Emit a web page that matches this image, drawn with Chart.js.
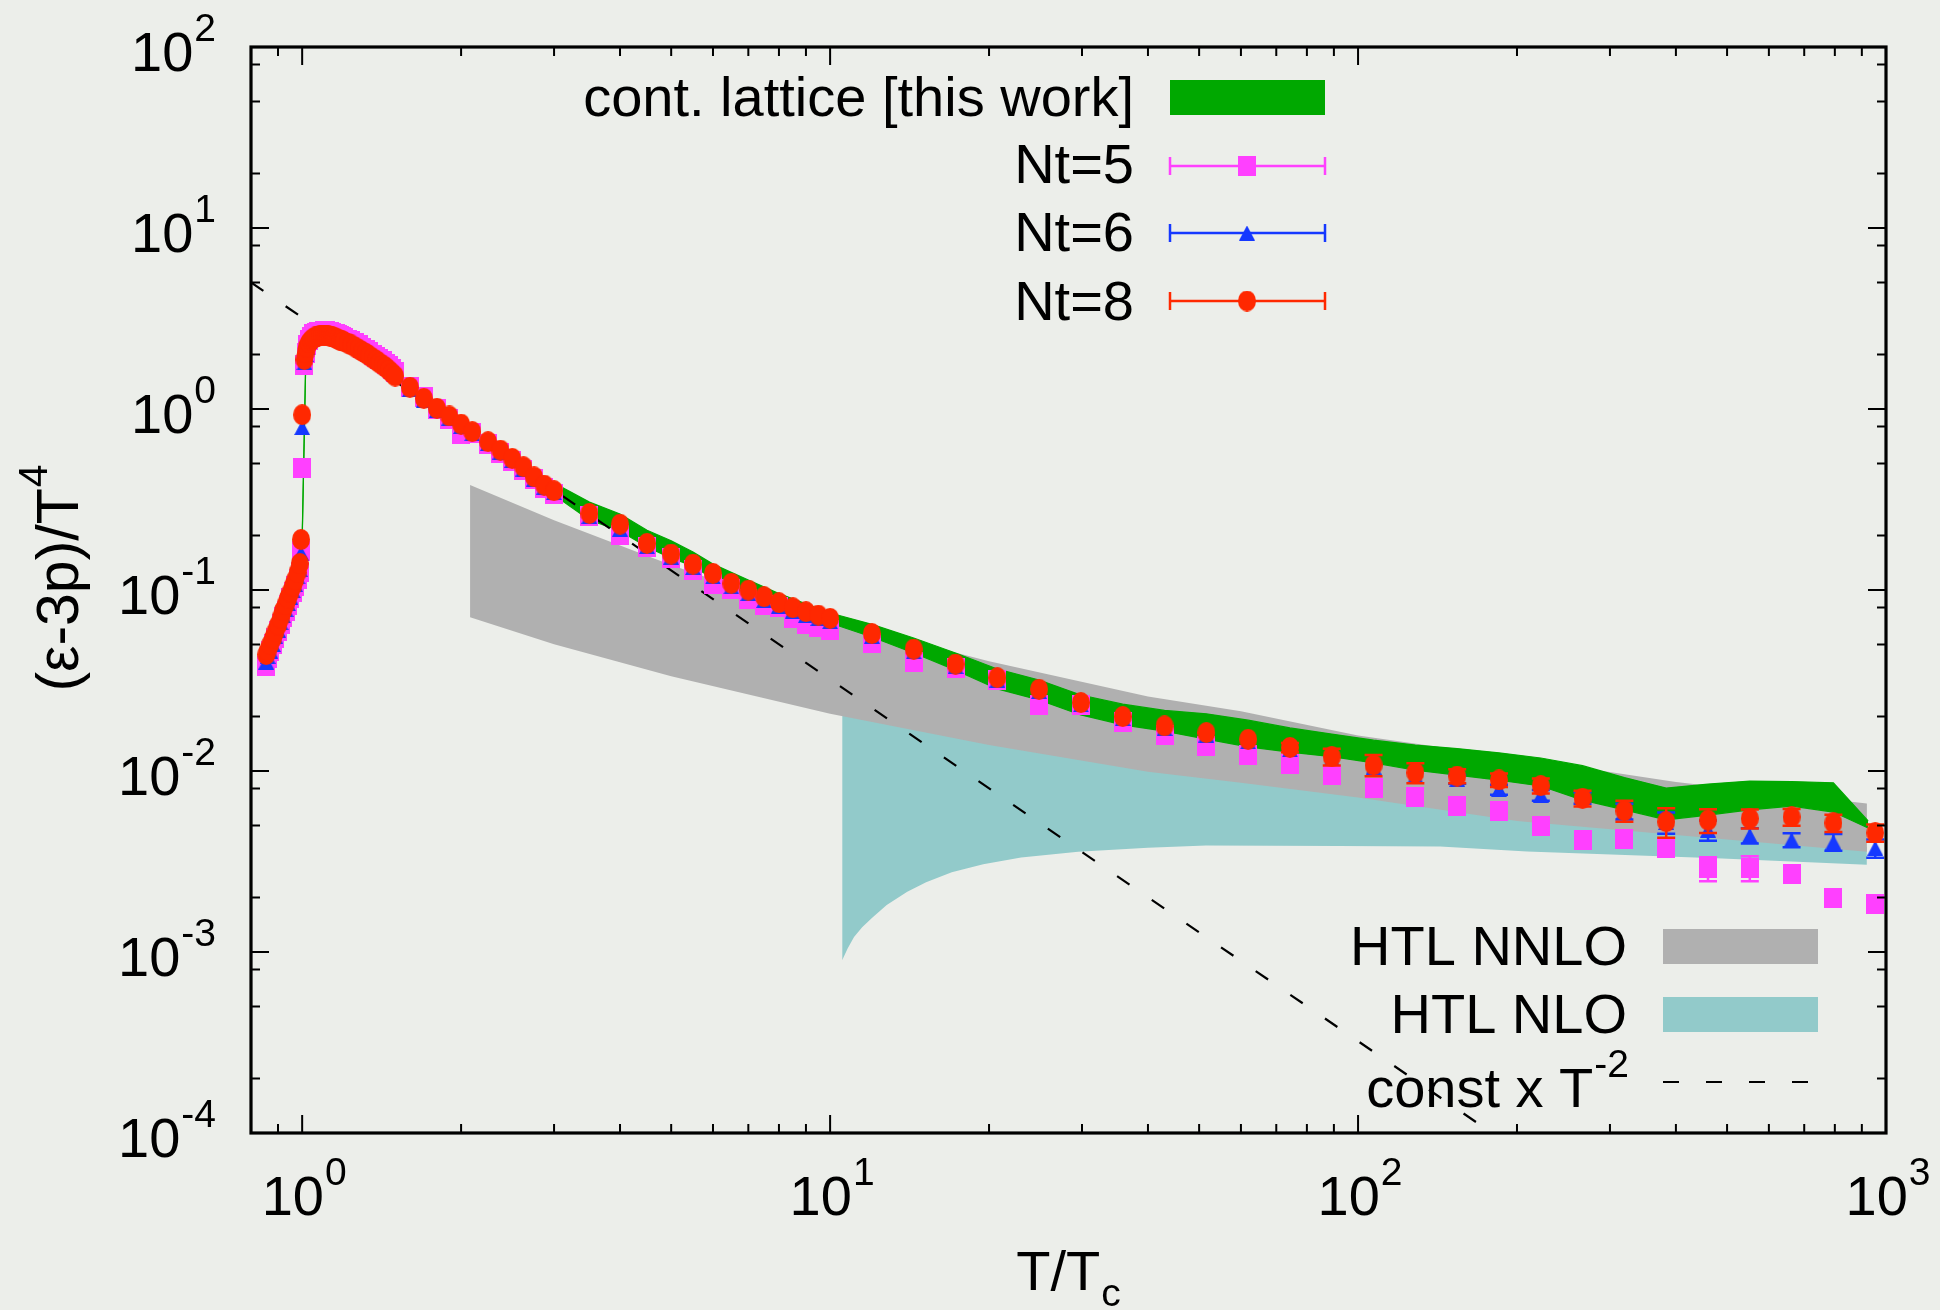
<!DOCTYPE html>
<html>
<head>
<meta charset="utf-8">
<script src="https://cdn.jsdelivr.net/npm/chart.js@4.4.0/dist/chart.umd.min.js"></script>
<style>
  html, body { margin: 0; padding: 0; background: #eceeea; }
  canvas { display: block; }
</style>
</head>
<body>
<canvas id="chart" width="1940" height="1310" style="width:1940px;height:1310px"></canvas>
<script>
// lattice points, T/Tc near the transition (dense scan)
const tLow = [0.855, 0.86, 0.87, 0.88, 0.89, 0.90, 0.91, 0.92, 0.93, 0.94, 0.95, 0.96, 0.97, 0.98, 0.99, 0.995, 1.0,
  1.01, 1.015, 1.02, 1.03, 1.04, 1.05, 1.06, 1.07, 1.08, 1.09, 1.10, 1.11, 1.12, 1.13, 1.14, 1.15, 1.16, 1.17, 1.18, 1.19, 1.20,
  1.22, 1.24, 1.26, 1.28, 1.30, 1.32, 1.34, 1.36, 1.38, 1.40, 1.42, 1.44, 1.46, 1.48, 1.50];
const nt8Low = [0.044, 0.046, 0.050, 0.054, 0.059, 0.064, 0.070, 0.077, 0.083, 0.090, 0.097, 0.105, 0.114, 0.125, 0.14, 0.19, 0.93,
  1.88, 2.05, 2.2, 2.32, 2.40, 2.46, 2.50, 2.53, 2.55, 2.56, 2.56, 2.56, 2.55, 2.53, 2.51, 2.49, 2.46, 2.43, 2.40, 2.38, 2.36,
  2.31, 2.26, 2.20, 2.14, 2.08, 2.03, 1.97, 1.91, 1.86, 1.80, 1.75, 1.70, 1.64, 1.58, 1.52];
const nt6Low = [0.040, 0.043, 0.046, 0.050, 0.055, 0.060, 0.066, 0.072, 0.078, 0.084, 0.091, 0.099, 0.107, 0.118, 0.13, 0.16, 0.79,
  1.80, 2.0, 2.2, 2.36, 2.45, 2.51, 2.55, 2.58, 2.60, 2.61, 2.61, 2.61, 2.60, 2.58, 2.56, 2.54, 2.51, 2.48, 2.45, 2.42, 2.40,
  2.35, 2.30, 2.24, 2.18, 2.12, 2.07, 2.01, 1.95, 1.89, 1.84, 1.78, 1.73, 1.67, 1.61, 1.55];
const nt5Low = [0.038, 0.042, 0.046, 0.050, 0.054, 0.059, 0.065, 0.071, 0.077, 0.083, 0.090, 0.097, 0.105, 0.115, 0.125, 0.165, 0.47,
  1.75, 2.05, 2.25, 2.42, 2.51, 2.58, 2.62, 2.65, 2.67, 2.68, 2.69, 2.69, 2.68, 2.66, 2.64, 2.61, 2.58, 2.55, 2.52, 2.49, 2.47,
  2.42, 2.37, 2.31, 2.25, 2.18, 2.13, 2.07, 2.00, 1.95, 1.89, 1.83, 1.78, 1.72, 1.66, 1.60];

// lattice points above 1.5 Tc
const tHigh = [1.6, 1.7, 1.8, 1.9, 2.0, 2.1, 2.25, 2.375, 2.5, 2.625, 2.75, 2.875, 3.0, 3.5, 4.0, 4.5, 5.0, 5.5, 6.0, 6.5, 7.0, 7.5,
  8.0, 8.5, 9.0, 9.5, 10.0, 12.0, 14.4, 17.28, 20.74, 24.88, 29.86, 35.83, 43.0, 51.6, 61.92, 74.3, 89.16, 107.0, 128.4, 154.1,
  184.9, 221.9, 266.2, 319.5, 383.4, 460.1, 552.1, 662.5, 795.0, 954.0];
const nt8High = [1.32, 1.146, 1.01, 0.915, 0.826, 0.75, 0.66, 0.593, 0.534, 0.48, 0.422, 0.38, 0.354, 0.265, 0.231, 0.181, 0.158,
  0.139, 0.1236, 0.1089, 0.0999, 0.0918, 0.0851, 0.0798, 0.0759, 0.0727, 0.0697, 0.0575, 0.0472, 0.039, 0.0328, 0.0283, 0.0239,
  0.020, 0.01775, 0.0163, 0.01497, 0.0135, 0.012, 0.0108, 0.0098, 0.00938, 0.00892, 0.0083, 0.00707, 0.00604, 0.00525, 0.00535,
  0.00547, 0.00558, 0.00517, 0.00456];
const nt6High = [1.28, 1.12, 0.985, 0.89, 0.80, 0.73, 0.645, 0.578, 0.52, 0.466, 0.41, 0.37, 0.345, 0.255, 0.217, 0.174, 0.152,
  0.133, 0.118, 0.104, 0.0955, 0.0875, 0.0815, 0.0765, 0.0725, 0.0695, 0.0668, 0.0555, 0.0455, 0.0378, 0.0318, 0.0275, 0.0232,
  0.0195, 0.0172, 0.0158, 0.0145, 0.0131, 0.0117, 0.0105, 0.0094, 0.0090, 0.0079, 0.00736, 0.0071, 0.0060, 0.0052, 0.00472,
  0.0044, 0.00416, 0.00405, 0.00375];
const nt5High = [1.33, 1.16, 1.0, 0.88, 0.73, 0.735, 0.64, 0.575, 0.515, 0.46, 0.41, 0.365, 0.34, 0.255, 0.2017, 0.1727, 0.1497,
  0.1288, 0.1081, 0.1015, 0.0897, 0.0829, 0.0806, 0.0697, 0.0653, 0.0627, 0.060, 0.0508, 0.0402, 0.0369, 0.0318, 0.0232, 0.0232,
  0.0187, 0.0158, 0.01374, 0.01226, 0.01093, 0.0095, 0.00802, 0.00715, 0.00643, 0.00604, 0.00499, 0.00416, 0.00421, 0.00374,
  0.0029, 0.00292, 0.0027, 0.0020, 0.00184];
// symmetric errors on the high-T points
const nt8Err = [0, 0, 0, 0, 0, 0, 0, 0, 0, 0, 0, 0, 0, 0, 0, 0, 0, 0, 0, 0, 0, 0, 0, 0, 0, 0, 0, 0, 0, 0, 0, 0, 0, 0, 0, 0, 0,
  0.0008, 0.00127, 0.00144, 0.00124, 0.00083, 0.00076, 0.00079, 0.0007, 0.0008, 0.00097, 0.0008, 0.00066, 0.00059, 0.00057, 0.0005];
const nt6Err = [0, 0, 0, 0, 0, 0, 0, 0, 0, 0, 0, 0, 0, 0, 0, 0, 0, 0, 0, 0, 0, 0, 0, 0, 0, 0, 0, 0, 0, 0, 0, 0, 0, 0, 0, 0, 0,
  0, 0, 0, 0, 0.0005, 0.0005, 0.0005, 0.0005, 0.0006, 0.0007, 0.0006, 0.00042, 0.00037, 0.00043, 0.00043];
const nt5Err = [0, 0, 0, 0, 0, 0, 0, 0, 0, 0, 0, 0, 0, 0, 0, 0, 0, 0, 0, 0, 0, 0, 0, 0, 0, 0, 0, 0, 0, 0, 0, 0, 0, 0, 0, 0, 0,
  0, 0, 0, 0, 0, 0, 0, 0, 0, 0, 0.00044, 0.00046, 0, 0, 0];

// continuum band
const contT  = [1.0, 1.016, 1.05, 1.1, 1.2, 1.3, 1.4, 1.5, 1.7, 2.0, 2.5, 3.0, 3.5, 4.0, 4.5, 5.0, 5.5, 6.0, 7.0, 8.0, 10, 12, 14.4,
  17.28, 20.74, 24.88, 29.86, 35.83, 43, 51.6, 61.92, 74.3, 89.16, 107, 128.4, 154.1, 184.9, 221.9, 266.2, 319.5, 383.4, 460.1,
  552.1, 662.5, 795, 925];
const contLo = [0.185, 1.85, 2.40, 2.50, 2.30, 2.02, 1.75, 1.47, 1.10, 0.79, 0.51, 0.335, 0.244, 0.212, 0.173, 0.150, 0.136, 0.115,
  0.0927, 0.0816, 0.0657, 0.055, 0.0449, 0.0361, 0.0284, 0.0247, 0.0204, 0.018, 0.0166, 0.015, 0.0136, 0.0127, 0.012, 0.0111,
  0.0101, 0.0095, 0.0089, 0.00826, 0.0069, 0.0061, 0.00537, 0.00571, 0.0061, 0.0064, 0.00593, 0.00484];
const contHi = [0.195, 1.95, 2.52, 2.62, 2.42, 2.12, 1.85, 1.56, 1.18, 0.85, 0.55, 0.39, 0.306, 0.263, 0.214, 0.187, 0.162, 0.139,
  0.1135, 0.0957, 0.0746, 0.0646, 0.0543, 0.0449, 0.0366, 0.0318, 0.0263, 0.0234, 0.0216, 0.0207, 0.0191, 0.0173, 0.016, 0.0148,
  0.0139, 0.0133, 0.0126, 0.0118, 0.0107, 0.0092, 0.00805, 0.00847, 0.0088, 0.00875, 0.0086, 0.0053];

// HTL NNLO band
const nnloT  = [2.08, 3, 5, 10, 20, 40, 60, 100, 200, 400, 920];
const nnloLo = [0.0707, 0.0502, 0.0334, 0.0207, 0.01393, 0.0099, 0.0086, 0.00714, 0.0053, 0.00443, 0.00358];
const nnloHi = [0.38, 0.243, 0.1374, 0.068, 0.0404, 0.0258, 0.0214, 0.0157, 0.0118, 0.0087, 0.00662];

// HTL NLO band (upper edge lies under the NNLO band)
const nloT  = [10.54, 10.8, 11.1, 11.5, 12.0, 12.8, 14.0, 15.2, 17.0, 19.5, 23, 29.5, 40, 51.5, 92, 143, 209, 477, 920];
const nloLo = [0.0009, 0.00105, 0.00121, 0.00137, 0.00154, 0.00182, 0.00215, 0.00243, 0.00276, 0.00305, 0.00333, 0.00358,
  0.00377, 0.00387, 0.00385, 0.00383, 0.00359, 0.0033, 0.00303];
const nloHi = [0.0212, 0.0210, 0.0207, 0.0203, 0.0198, 0.0191, 0.0181, 0.0173, 0.0162, 0.0150, 0.0138, 0.0122, 0.0105, 0.0096,
  0.0078, 0.0065, 0.0056, 0.0045, 0.0038];

// const x T^-2 guide
const guideT = [0.8, 180];
const guideV = [5.0, 0.0000993];

const xTicks = [1, 10, 100, 1000];
const xExp = ['0', '1', '2', '3'];
const yTicks = [100, 10, 1, 0.1, 0.01, 0.001, 0.0001];
const yExp = ['2', '1', '0', '-1', '-2', '-3', '-4'];

const GREEN = '#00a800', MAGENTA = '#ff40ff', BLUE = '#1538ff', RED = '#ff2800';
const GRAY = '#b0b0b0', TEAL = '#92caca';
const FONT = '"Liberation Sans", Arial, Helvetica, sans-serif';
const FS = 56, SUP = 39;

const pts = (xs, ys) => xs.map((x, i) => ({ x: x, y: ys[i] }));

function marker(kind, color, w, h) {
  const c = document.createElement('canvas');
  c.width = w; c.height = h;
  const g = c.getContext('2d');
  g.fillStyle = color;
  g.beginPath();
  if (kind === 'circle') {
    g.ellipse(w / 2, h / 2, w / 2, h / 2, 0, 0, Math.PI * 2);
  } else if (kind === 'tri') {
    g.moveTo(w / 2, 0); g.lineTo(w, h); g.lineTo(0, h); g.closePath();
  } else {
    g.rect(0, 0, w, h);
  }
  g.fill();
  return c;
}
const sqMark = marker('rect', MAGENTA, 18, 20);
const triMark = marker('tri', BLUE, 16, 15);
const dotMark = marker('circle', RED, 18, 21);

function band(xs, lo, hi, color, order) {
  return [
    { data: pts(xs, lo), borderWidth: 0, pointRadius: 0, fill: false, order: order },
    { data: pts(xs, hi), borderWidth: 0, pointRadius: 0, backgroundColor: color, fill: '-1', order: order }
  ];
}

function lattice(lowV, highV, errs, mark, color, order) {
  return {
    data: pts(tLow.concat(tHigh), lowV.concat(highV)),
    errors: tLow.map(() => 0).concat(errs),
    errColor: color,
    showLine: false,
    pointStyle: mark,
    pointRadius: 10,
    order: order
  };
}

const greenBand = band(contT, contLo, contHi, GREEN, 8);
greenBand.forEach(d => { d.borderWidth = 1.2; d.borderColor = GREEN; });

const datasets = [].concat(
  band(nloT, nloLo, nloHi, TEAL, 10),
  band(nnloT, nnloLo, nnloHi, GRAY, 9),
  greenBand,
  [{ data: pts(guideT, guideV), borderColor: '#000', borderWidth: 2.2, borderDash: [15, 27], pointRadius: 0, fill: false, order: 7 }],
  [lattice(nt5Low, nt5High, nt5Err, sqMark, MAGENTA, 3),
   lattice(nt6Low, nt6High, nt6Err, triMark, BLUE, 2),
   lattice(nt8Low, nt8High, nt8Err, dotMark, RED, 1)]
);

const errorBars = {
  id: 'errorBars',
  beforeDatasetDraw(chart, args) {
    const ds = chart.data.datasets[args.index];
    if (!ds.errors) return;
    const { ctx, chartArea: a, scales: { x, y } } = chart;
    ctx.save();
    ctx.beginPath(); ctx.rect(a.left, a.top, a.right - a.left, a.bottom - a.top); ctx.clip();
    ctx.strokeStyle = ds.errColor; ctx.lineWidth = 2.5;
    ds.data.forEach((p, i) => {
      const e = ds.errors[i];
      if (!e) return;
      const px = x.getPixelForValue(p.x);
      const y1 = y.getPixelForValue(p.y - e), y2 = y.getPixelForValue(p.y + e);
      ctx.beginPath();
      ctx.moveTo(px, y1); ctx.lineTo(px, y2);
      ctx.moveTo(px - 9, y1); ctx.lineTo(px + 9, y1);
      ctx.moveTo(px - 9, y2); ctx.lineTo(px + 9, y2);
      ctx.stroke();
    });
    ctx.restore();
  }
};

function supText(ctx, base, sup, x, baseY, align, size, supSize, rise) {
  ctx.font = size + 'px ' + FONT;
  const bw = ctx.measureText(base).width;
  ctx.font = supSize + 'px ' + FONT;
  const sw = ctx.measureText(sup).width;
  const total = bw + sw + 1;
  const x0 = align === 'right' ? x - total : align === 'center' ? x - total / 2 : x;
  ctx.textAlign = 'left';
  ctx.textBaseline = 'alphabetic';
  ctx.font = size + 'px ' + FONT;
  ctx.fillText(base, x0, baseY);
  ctx.font = supSize + 'px ' + FONT;
  ctx.fillText(sup, x0 + bw + 1, baseY - rise);
}

const frame = {
  id: 'frame',
  afterDraw(chart) {
    const { ctx, chartArea: a, scales: { x, y } } = chart;
    ctx.save();
    ctx.strokeStyle = '#000';
    ctx.fillStyle = '#000';

    // ticks on all four sides, pointing inward
    ctx.lineWidth = 2;
    ctx.beginPath();
    for (let d = 0.1; d < 1000; d *= 10) {
      for (let m = 1; m <= 9; m++) {
        const v = Math.round(d * m * 1000) / 1000;
        if (v < 0.8 || v > 1000) continue;
        const px = x.getPixelForValue(v);
        const len = m === 1 ? 18 : 9;
        ctx.moveTo(px, a.bottom); ctx.lineTo(px, a.bottom - len);
        ctx.moveTo(px, a.top); ctx.lineTo(px, a.top + len);
      }
    }
    for (let d = 0.0001; d < 100; d *= 10) {
      [1, 2, 5, 8].forEach(m => {
        const py = y.getPixelForValue(d * m);
        const len = m === 1 ? 18 : 9;
        ctx.moveTo(a.left, py); ctx.lineTo(a.left + len, py);
        ctx.moveTo(a.right, py); ctx.lineTo(a.right - len, py);
      });
    }
    ctx.stroke();

    ctx.lineWidth = 3.2;
    ctx.strokeRect(a.left, a.top, a.right - a.left, a.bottom - a.top);

    // tick labels
    xTicks.forEach((v, i) => supText(ctx, '10', xExp[i], x.getPixelForValue(v) + 2, 1215, 'center', FS, SUP, 30));
    yTicks.forEach((v, i) => supText(ctx, '10', yExp[i], 216, y.getPixelForValue(v) + 24, 'right', FS, SUP, 30));

    // axis titles
    ctx.font = FS + 'px ' + FONT;
    const tw = ctx.measureText('T/T').width;
    ctx.font = SUP + 'px ' + FONT;
    const cw = ctx.measureText('c').width;
    const tx = 1068 - (tw + cw) / 2;
    ctx.textAlign = 'left';
    ctx.font = FS + 'px ' + FONT;
    ctx.fillText('T/T', tx, 1290);
    ctx.font = SUP + 'px ' + FONT;
    ctx.fillText('c', tx + tw + 1, 1306);

    ctx.save();
    ctx.translate(78, 578);
    ctx.rotate(-Math.PI / 2);
    supText(ctx, '(\u03b5-3p)/T', '4', 0, 0, 'center', 59, 41, 31);
    ctx.restore();

    // upper legend
    ctx.textAlign = 'right';
    ctx.font = FS + 'px ' + FONT;
    ctx.fillText('cont. lattice [this work]', 1134, 116);
    ctx.fillStyle = GREEN;
    ctx.fillRect(1170, 80, 155, 35);
    const rows = [['Nt=5', MAGENTA, sqMark, 166, 183], ['Nt=6', BLUE, triMark, 233, 251], ['Nt=8', RED, dotMark, 301, 320]];
    rows.forEach(r => {
      ctx.fillStyle = '#000';
      ctx.textAlign = 'right';
      ctx.font = FS + 'px ' + FONT;
      ctx.fillText(r[0], 1134, r[4]);
      ctx.strokeStyle = r[1];
      ctx.lineWidth = 2.5;
      ctx.beginPath();
      ctx.moveTo(1170, r[3]); ctx.lineTo(1325, r[3]);
      ctx.moveTo(1170, r[3] - 9); ctx.lineTo(1170, r[3] + 9);
      ctx.moveTo(1325, r[3] - 9); ctx.lineTo(1325, r[3] + 9);
      ctx.stroke();
      ctx.drawImage(r[2], 1247 - r[2].width / 2, r[3] - r[2].height / 2);
    });

    // lower legend
    ctx.fillStyle = '#000';
    ctx.textAlign = 'right';
    ctx.font = FS + 'px ' + FONT;
    ctx.fillText('HTL NNLO', 1627, 965);
    ctx.fillText('HTL NLO', 1627, 1033);
    supText(ctx, 'const x T', '-2', 1629, 1107, 'right', FS, SUP, 30);
    ctx.fillStyle = GRAY;
    ctx.fillRect(1663, 929, 155, 35);
    ctx.fillStyle = TEAL;
    ctx.fillRect(1663, 997, 155, 35);
    ctx.strokeStyle = '#000';
    ctx.lineWidth = 2.2;
    ctx.setLineDash([16, 27]);
    ctx.beginPath();
    ctx.moveTo(1663, 1082); ctx.lineTo(1810, 1082);
    ctx.stroke();
    ctx.restore();
  }
};

new Chart(document.getElementById('chart'), {
  type: 'line',
  data: { datasets: datasets },
  options: {
    responsive: false,
    devicePixelRatio: 1,
    animation: false,
    layout: { padding: { left: 251, right: 54, top: 47, bottom: 177 } },
    scales: {
      x: { type: 'logarithmic', min: 0.8, max: 1000, display: false },
      y: { type: 'logarithmic', min: 0.0001, max: 100, display: false }
    },
    plugins: {
      legend: { display: false },
      tooltip: { enabled: false }
    }
  },
  plugins: [errorBars, frame]
});
</script>
</body>
</html>
